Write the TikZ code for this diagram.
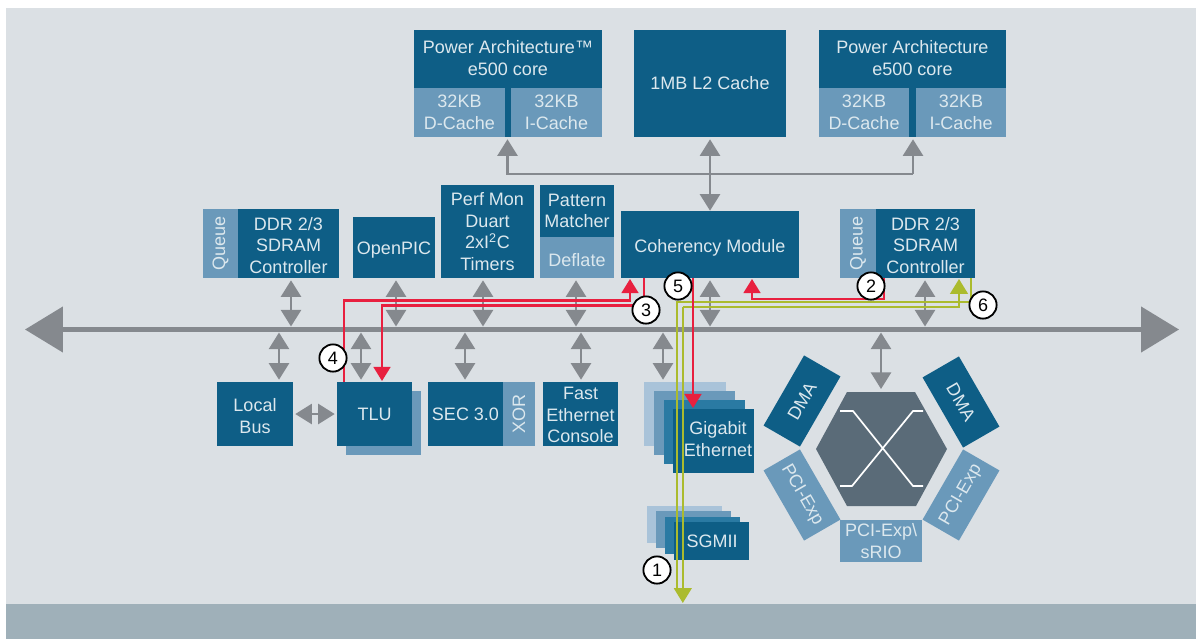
\documentclass[tikz,border=0pt]{standalone}
\usepackage{fontspec}
\setmainfont{Liberation Sans}
\usetikzlibrary{arrows.meta}
\definecolor{panelgray}{HTML}{DBE0E4}
\definecolor{bandgray}{HTML}{9FB0B9}
\definecolor{darkblue}{HTML}{0E5E86}
\definecolor{midblue}{HTML}{6A99BA}
\definecolor{paleblue}{HTML}{A9C3D9}
\definecolor{tealblue}{HTML}{2A7AA3}
\definecolor{labeltext}{HTML}{DCE8EE}
\definecolor{buscolor}{HTML}{85898E}
\definecolor{hexcolor}{HTML}{5A6B78}
\definecolor{pathred}{HTML}{E8203F}
\definecolor{pathgreen}{HTML}{ABBB2E}
\newcommand{\textdrop}[1]{\rule{0pt}{#1pt}}
\tikzset{
    size/.style 2 args={minimum width=#1*0.025cm, minimum height=#2*0.025cm},
    blockfont/.style={font=\fontsize{12.8}{15.3}\selectfont},
    darkbox/.style={fill=darkblue, text=labeltext, align=center, inner sep=0pt, blockfont},
    midbox/.style={fill=midblue, text=labeltext, align=center, inner sep=0pt, blockfont},
    busarrow/.style={draw=buscolor, line width=1.9pt, shorten <=0.075cm, shorten >=0.05cm,
        {Triangle[length=11.8pt,width=14.2pt]}-{Triangle[length=11.8pt,width=14.2pt]}},
    redpath/.style={draw=pathred, line width=1.45pt},
    greenpath/.style={draw=pathgreen, line width=1.4pt},
    redhead/.style={-{Triangle[length=10pt,width=12pt]}},
    greenhead/.style={-{Triangle[length=10.5pt,width=12.5pt]}},
    stepnum/.style={circle, draw=black, fill=white, line width=1.3pt, minimum size=0.68cm, inner sep=0pt, blockfont}
}
\begin{document}
\begin{tikzpicture}[x=0.025cm, y=-0.025cm]
    \useasboundingbox (0,0) rectangle (1196,639);
    % Backdrop
    \fill[panelgray] (6,8) rectangle (1196,604);
    \fill[bandgray] (6,604) rectangle (1196,639);

    % Cores and L2
    \node[darkbox, size={188}{107}] (coreleft) at (508,83.5) {};
    \node[darkbox, fill=none] (coreleftname) at (508,58) {Power Architecture™\\e500 core};
    \node[midbox, size={91}{49}] (dcacheleft) at (459.5,112.5) {32KB\\D-Cache};
    \node[midbox, size={91}{49}] (icacheleft) at (556.5,112.5) {32KB\\I-Cache};
    \node[darkbox, size={152}{107}] (ltwo) at (710,83.5) {1MB L2 Cache};
    \node[darkbox, size={187}{107}] (coreright) at (912.5,83.5) {};
    \node[darkbox, fill=none] (corerightname) at (912.5,58) {Power Architecture\\e500 core};
    \node[midbox, size={90}{49}] (dcacheright) at (864,112.5) {32KB\\D-Cache};
    \node[midbox, size={90}{49}] (icacheright) at (961,112.5) {32KB\\I-Cache};

    % Upper blocks
    \node[midbox, size={35}{69}] (queueleft) at (220.5,243.5) {};
    \node[text=labeltext, rotate=90, blockfont, inner sep=0pt] (queuelefttext) at (220.5,243.5) {Queue};
    \node[darkbox, size={101}{69}] (ddrleft) at (288.5,243.5) {\textdrop{12}DDR 2/3\\SDRAM\\Controller};
    \node[darkbox, size={82}{61}] (openpic) at (394,247.5) {\textdrop{12}OpenPIC};
    \node[darkbox, size={93}{93}] (perfmon) at (487.5,231.5) {Perf Mon\\Duart\\2xI\textsuperscript{2}C\\Timers};
    \node[darkbox, size={74}{52}] (pattern) at (577,211) {Pattern\\Matcher};
    \node[midbox, size={74}{41}] (deflate) at (577,257.5) {\textdrop{13}Deflate};
    \node[darkbox, size={178}{67}] (coherency) at (710,244.5) {\textdrop{14}Coherency Module};
    \node[midbox, size={36}{69}] (queueright) at (858,243.5) {};
    \node[text=labeltext, rotate=90, blockfont, inner sep=0pt] (queuerighttext) at (858,243.5) {Queue};
    \node[darkbox, size={99}{69}] (ddrright) at (925.5,243.5) {\textdrop{12}DDR 2/3\\SDRAM\\Controller};

    % Lower blocks
    \node[darkbox, size={76}{64}] (localbus) at (255,414) {\textdrop{12}Local\\Bus};
    \node[midbox, size={75}{64}] (tlushadow) at (383.5,423) {};
    \node[darkbox, size={75}{64}] (tlu) at (374.5,414) {TLU};
    \node[darkbox, size={75}{64}] (sec) at (465.5,414) {SEC 3.0};
    \node[midbox, size={32}{64}] (xorbox) at (519,414) {};
    \node[text=labeltext, rotate=90, blockfont, inner sep=0pt] (xortext) at (519,414) {XOR};
    \node[darkbox, size={75}{64}] (fastenet) at (580.5,414) {\textdrop{10.5}Fast\\Ethernet\\Console};

    % Gigabit stack
    \node[fill=paleblue, size={82}{64}] (gigaa) at (685,414) {};
    \node[fill=midblue, size={81}{64}] (gigab) at (694.5,423) {};
    \node[fill=tealblue, size={81}{64}] (gigac) at (704.5,432) {};
    \node[darkbox, size={81}{64}] (gigad) at (713.5,441) {};
    \node[text=labeltext, blockfont, align=center, inner sep=0pt] (gigatext) at (718,439) {Gigabit\\Ethernet};

    % SGMII stack
    \node[fill=paleblue, size={75}{37}] (sgmiia) at (684.5,524.5) {};
    \node[fill=midblue, size={75}{37}] (sgmiib) at (693.5,529.5) {};
    \node[fill=tealblue, size={75}{37}] (sgmiic) at (702.5,535.5) {};
    \node[darkbox, size={75}{38}] (sgmiid) at (711.5,541) {};
    \node[text=labeltext, blockfont, inner sep=0pt] (sgmiitext) at (712,541) {SGMII};

    % Switch
    \fill[hexcolor] (816,449) -- (847,392) -- (915,392) -- (947,449) -- (916,506) -- (847,506) -- cycle;
    \coordinate (hextop) at (881,391);
    \draw[white, line width=1.2pt] (840,411) -- (853,411) -- (913,486) -- (923,486);
    \draw[white, line width=1.2pt] (923,411) -- (913,411) -- (852,486) -- (840,486);
    \node[darkbox, size={81}{42}, rotate=60] (dmaleft) at (802,401) {DMA};
    \node[darkbox, size={81}{42}, rotate=-60] (dmaright) at (961,402) {DMA};
    \node[midbox, size={81}{42}, rotate=-60] (pcileft) at (802,495) {PCI-Exp};
    \node[midbox, size={81}{42}, rotate=60] (pciright) at (961,495) {PCI-Exp};
    \node[midbox, size={82}{42}] (pcibottom) at (881,541) {PCI-Exp\textbackslash\\sRIO};

    % Core connections
    \coordinate (coreleftjoin) at (507.5,174);
    \coordinate (corerightjoin) at (913,174);
    \coordinate (ltwojoin) at (710,174);
    \draw[draw=buscolor, line width=1.9pt, {Triangle[length=11.8pt,width=14.2pt]}-{Triangle[length=11.8pt,width=14.2pt]}]
        (ltwo.south) ++(0,2) -- (coherency.north);
    \draw[draw=buscolor, line width=1.9pt, {Triangle[length=11.8pt,width=14.2pt]}-]
        (coreleftjoin |- dcacheleft.south) ++(0,2) -- (coreleftjoin) -- (corerightjoin);
    \draw[draw=buscolor, line width=1.9pt, {Triangle[length=11.8pt,width=14.2pt]}-]
        (corerightjoin |- dcacheleft.south) ++(0,2) -- (corerightjoin);

    % Bus
    \coordinate (buswest) at (25,329.5);
    \coordinate (buseast) at (1179,329.5);
    \draw[draw=buscolor, line width=3.2pt, {Triangle[length=27pt,width=32pt]}-{Triangle[length=27pt,width=32pt]}] (buswest) -- (buseast);

    % Bus taps
    \coordinate (tapddrleft) at (291,329.5);
    \coordinate (tapopenpic) at (396,329.5);
    \coordinate (tapperf) at (483,329.5);
    \coordinate (tappattern) at (576,329.5);
    \coordinate (tapcoherency) at (710,329.5);
    \coordinate (tapddrright) at (925,329.5);
    \coordinate (taplocal) at (279,329.5);
    \coordinate (taptlu) at (361,329.5);
    \coordinate (tapsec) at (465,329.5);
    \coordinate (tapfast) at (581,329.5);
    \coordinate (tapgiga) at (663,329.5);
    \coordinate (taphex) at (881,329.5);
    \draw[busarrow] (tapddrleft) -- (tapddrleft |- ddrleft.south);
    \draw[busarrow] (tapopenpic) -- (tapopenpic |- openpic.south);
    \draw[busarrow] (tapperf) -- (tapperf |- perfmon.south);
    \draw[busarrow] (tappattern) -- (tappattern |- deflate.south);
    \draw[busarrow] (tapcoherency) -- (tapcoherency |- coherency.south);
    \draw[busarrow] (tapddrright) -- (tapddrright |- ddrright.south);
    \draw[busarrow] (taplocal) -- (taplocal |- localbus.north);
    \draw[busarrow] (taptlu) -- (taptlu |- tlu.north);
    \draw[busarrow] (tapsec) -- (tapsec |- sec.north);
    \draw[busarrow] (tapfast) -- (tapfast |- fastenet.north);
    \draw[busarrow] (tapgiga) -- (tapgiga |- gigaa.north);
    \draw[busarrow] (taphex) -- (hextop);
    \draw[busarrow, shorten <=0.05cm] (localbus.east) -- (tlu.west);

    % Green paths
    \coordinate (greenstart) at (971,278);
    \coordinate (greenend) at (677.3,592);
    \coordinate (greentip) at (959,279);
    \coordinate (greendown) at (682.8,603);
    \draw[greenpath] (greenstart) |- (677.3,302) -- (greenend);
    \draw[greenpath, greenhead] (682.8,307) -- (greendown);
    \draw[greenpath, greenhead] (682.8,307) -| (greentip);

    % Red paths
    \coordinate (redtlutop) at (344,382);
    \coordinate (redcohleft) at (630,279);
    \coordinate (redcohstart) at (644,278);
    \coordinate (redtlutip) at (382,381);
    \coordinate (redgigastart) at (693,278);
    \coordinate (redgigatip) at (693,408);
    \coordinate (redddrstart) at (884,278);
    \coordinate (redddrtip) at (752,279);
    \draw[redpath, redhead] (redtlutop) |- (630,300.5) -- (redcohleft);
    \draw[redpath, redhead] (redcohstart) |- (382,305.5) -- (redtlutip);
    \draw[redpath, redhead] (redgigastart) -- (redgigatip);
    \draw[redpath, redhead] (redddrstart) |- (752,299) -- (redddrtip);

    % Step numbers
    \node[stepnum] (stepone) at (657,570) {1};
    \node[stepnum] (steptwo) at (871,286) {2};
    \node[stepnum] (stepthree) at (646,310) {3};
    \node[stepnum] (stepfour) at (333,358) {4};
    \node[stepnum] (stepfive) at (678,286) {5};
    \node[stepnum] (stepsix) at (983,305) {6};
\end{tikzpicture}
\end{document}
